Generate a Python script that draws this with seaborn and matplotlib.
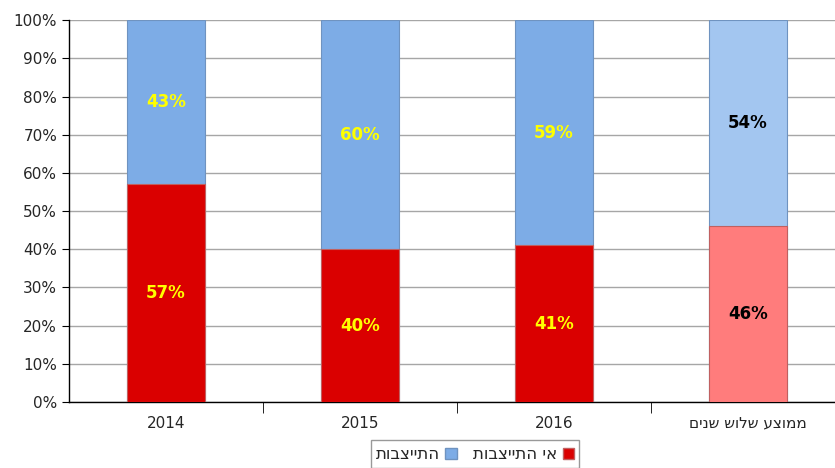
import matplotlib
matplotlib.use("Agg")
import matplotlib.pyplot as plt
import seaborn as sns
import numpy as np
import pandas as pd
from matplotlib.patches import Patch

sns.set_style("white")
plt.rcParams['font.family'] = ['DejaVu Sans']

categories = ['2014', '2015', '2016', 'ממוצע שלוש שנים']
unstable = [57, 40, 41, 46]      # אי התייצבות
stable = [43, 60, 59, 54]        # התייצבות
series_names = ['אי התייצבות', 'התייצבות']

red_colors = ['#DA0000', '#DA0000', '#DA0000', '#FF7C7C']
blue_colors = ['#7DACE6', '#7DACE6', '#7DACE6', '#A3C6F0']
label_colors = ['#FFFF00', '#FFFF00', '#FFFF00', '#000000']


def rtl(s):
    # matplotlib has no bidi support, so flip Hebrew text for display
    return s[::-1] if any('\u0590' <= c <= '\u05ff' for c in s) else s


disp_cats = [rtl(c) for c in categories]
df = pd.DataFrame({'cat': disp_cats,
                   'unstable': unstable,
                   'total': np.array(unstable) + np.array(stable)})

fig = plt.figure(figsize=(8.35, 4.68), dpi=100)
ax = fig.add_axes([0.0826, 0.141, 0.929, 0.816])

sns.barplot(data=df, x='cat', y='total', hue='cat', palette=blue_colors,
            saturation=1, width=0.4, legend=False, ax=ax,
            edgecolor='#6f93c0', linewidth=0.8, zorder=3)
sns.barplot(data=df, x='cat', y='unstable', hue='cat', palette=red_colors,
            saturation=1, width=0.4, legend=False, ax=ax,
            edgecolor='#c06060', linewidth=0.8, zorder=3)

for i in range(len(categories)):
    ax.text(i, unstable[i] / 2, f'{unstable[i]}%', ha='center', va='center',
            color=label_colors[i], fontsize=12, fontweight='bold', zorder=5)
    ax.text(i, unstable[i] + stable[i] / 2, f'{stable[i]}%', ha='center',
            va='center', color=label_colors[i], fontsize=12,
            fontweight='bold', zorder=5)

ax.set_xlim(-0.5, 3.5)
ax.set_ylim(0, 100)
ax.set_yticks(np.arange(0, 101, 10))
ax.set_yticklabels([f'{v}%' for v in range(0, 101, 10)], fontsize=11)
ax.yaxis.grid(True, color='#a6a6a6', linewidth=1, zorder=0)
ax.set_axisbelow(True)
ax.set_xlabel('')
ax.set_ylabel('')
ax.tick_params(axis='x', length=0, labelsize=11, pad=10)
ax.tick_params(axis='y', length=5, direction='out', left=True, color='black')
# category separator ticks
ax.set_xticks([0.5, 1.5, 2.5], minor=True)
ax.tick_params(axis='x', which='minor', length=8, direction='out',
               bottom=True, color='black')

for side in ['top', 'right']:
    ax.spines[side].set_visible(False)
for side in ['left', 'bottom']:
    ax.spines[side].set_color('black')
    ax.spines[side].set_linewidth(1)

handles = [Patch(facecolor=blue_colors[0], edgecolor='#6f93c0', label=rtl(series_names[1])),
           Patch(facecolor=red_colors[0], edgecolor='#c06060', label=rtl(series_names[0]))]
leg = fig.legend(handles=handles, loc='upper center', bbox_to_anchor=(0.569, 0.077),
                 ncol=2, markerfirst=False, frameon=True, fancybox=False,
                 edgecolor='#808080', fontsize=12, handlelength=0.7,
                 handleheight=0.7, handletextpad=0.3, columnspacing=1.0,
                 borderpad=0.3)
leg.get_frame().set_linewidth(1)

fig.savefig('out.png', dpi=100)
